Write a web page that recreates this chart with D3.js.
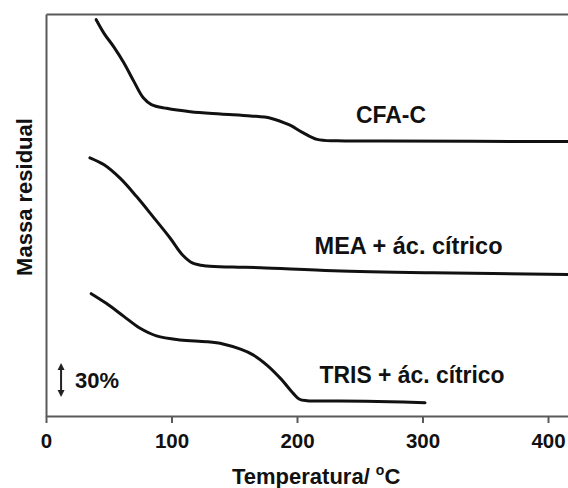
<!DOCTYPE html>
<html>
<head>
<meta charset="utf-8">
<script src="https://cdn.jsdelivr.net/npm/d3@7"></script>
<style>
  body { margin: 0; background: #fff; }
  text { font-family: "Liberation Sans", Arial, sans-serif; font-weight: bold; fill: #111; }
</style>
</head>
<body>
<div id="canvas"></div>
<script>
// TGA curves, stacked (residual mass, arbitrary offsets, % units)
const seriesNames = ["CFA-C", "MEA + ác. cítrico", "TRIS + ác. cítrico"];
const cfaTemp = [40, 46.5, 54, 62, 70, 77.5, 84, 96, 115, 139, 163, 179, 194, 205, 216, 232, 269, 420];
const cfaMass = [350, 337.5, 326, 312, 295.5, 281, 275, 271.7, 268.7, 266.7, 265, 263, 257, 250, 244.3, 243, 242.8, 242.3];
const meaTemp = [35, 46, 59, 72, 86, 99, 109, 117, 128, 149, 171, 229, 308, 420];
const meaMass = [228, 222, 210, 194, 175, 157, 142, 135, 132.5, 131.5, 131, 128.3, 126.5, 125];
const trisTemp = [36, 48, 62, 75, 88, 107, 128, 141, 155, 165, 176, 187, 197, 202, 208, 234, 274, 302];
const trisMass = [108, 99.5, 88, 77.5, 70.8, 67.2, 65.6, 63.6, 59, 54, 45, 33, 20, 14.8, 13.5, 13.2, 12.6, 11.7];
const xTicks = [0, 100, 200, 300, 400];
const scaleBar = 30; // %

let width = 568;
let height = 488;
let margin = { top: 14, left: 46, bottom: 72 };

let escalaX = d3.scaleLinear()
  .domain([0, 420])
  .range([margin.left, margin.left + 420 * 1.255]);
let escalaY = d3.scaleLinear()
  .domain([0, 355])
  .range([height - margin.bottom, margin.top]);

let svg = d3.select("#canvas")
  .append("svg")
  .attr("width", width)
  .attr("height", height);

// frame: bottom axis, left axis, top line
let ejeX = d3.axisBottom(escalaX)
  .tickValues(xTicks)
  .tickSize(7)
  .tickSizeOuter(0)
  .tickPadding(10);
let gx = svg.append("g")
  .attr("transform", "translate(0," + escalaY(0) + ")")
  .call(ejeX);
gx.selectAll("text")
  .attr("font-size", 20.5)
  .attr("fill", "#111")
  .style("font-family", "Liberation Sans, Arial, sans-serif")
  .attr("font-weight", "bold");

svg.append("g")
  .attr("transform", "translate(" + margin.left + ",0)")
  .call(d3.axisLeft(escalaY).tickValues([]).tickSizeOuter(0));

svg.append("g")
  .attr("transform", "translate(0," + escalaY(355) + ")")
  .call(d3.axisTop(escalaX).tickValues([]).tickSizeOuter(0));

svg.selectAll(".domain, .tick line")
  .attr("stroke", "#5a5a5a")
  .attr("stroke-width", 2);

// curves
let series = [
  { name: seriesNames[0], temp: cfaTemp, mass: cfaMass },
  { name: seriesNames[1], temp: meaTemp, mass: meaMass },
  { name: seriesNames[2], temp: trisTemp, mass: trisMass }
];

let linea = d3.line()
  .x(d => escalaX(d[0]))
  .y(d => escalaY(d[1]))
  .curve(d3.curveCatmullRom.alpha(0.5));

svg.append("defs").append("clipPath").attr("id", "clip")
  .append("rect")
  .attr("x", margin.left).attr("y", margin.top)
  .attr("width", width - margin.left).attr("height", escalaY(0) - margin.top);

svg.append("g").attr("clip-path", "url(#clip)")
  .selectAll("path")
  .data(series)
  .enter()
  .append("path")
  .attr("d", s => linea(d3.zip(s.temp, s.mass)))
  .attr("fill", "none")
  .attr("stroke", "#111")
  .attr("stroke-width", 3)
  .attr("stroke-linecap", "round");

// series labels
let etiquetas = [
  { text: seriesNames[0], t: 247, m: 259 },
  { text: seriesNames[1], t: 214, m: 143.5 },
  { text: seriesNames[2], t: 218, m: 29.5 }
];
svg.selectAll("text.serie")
  .data(etiquetas)
  .enter()
  .append("text")
  .attr("class", "serie")
  .attr("x", d => escalaX(d.t))
  .attr("y", d => escalaY(d.m))
  .attr("font-size", 23)
  .attr("textLength", (d, i) => [70, 188, 185][i])
  .attr("lengthAdjust", "spacingAndGlyphs")
  .text(d => d.text);

// 30% scale bar
let barX = escalaX(12);
let barBottom = escalaY(0) - 19;
let barTop = barBottom - (escalaY(0) - escalaY(scaleBar));
svg.append("line")
  .attr("x1", barX).attr("x2", barX)
  .attr("y1", barTop + 4).attr("y2", barBottom - 4)
  .attr("stroke", "#222").attr("stroke-width", 2);
svg.append("path")
  .attr("d", "M" + (barX - 3.5) + "," + (barTop + 7) + "L" + barX + "," + barTop + "L" + (barX + 3.5) + "," + (barTop + 7) + "Z")
  .attr("fill", "#222");
svg.append("path")
  .attr("d", "M" + (barX - 3.5) + "," + (barBottom - 7) + "L" + barX + "," + barBottom + "L" + (barX + 3.5) + "," + (barBottom - 7) + "Z")
  .attr("fill", "#222");
svg.append("text")
  .attr("x", barX + 14)
  .attr("y", (barTop + barBottom) / 2 + 8)
  .attr("font-size", 22)
  .text(scaleBar + "%");

// axis titles
let tituloX = svg.append("text")
  .attr("x", 232)
  .attr("y", 484)
  .attr("font-size", 22);
tituloX.append("tspan").text("Temperatura/ ");
tituloX.append("tspan").attr("dy", -9).attr("font-size", 14).text("o");
tituloX.append("tspan").attr("dy", 9).text("C");

svg.append("text")
  .attr("transform", "translate(32," + 197 + ") rotate(-90)")
  .attr("text-anchor", "middle")
  .attr("font-size", 22)
  .text("Massa residual");
</script>
</body>
</html>
